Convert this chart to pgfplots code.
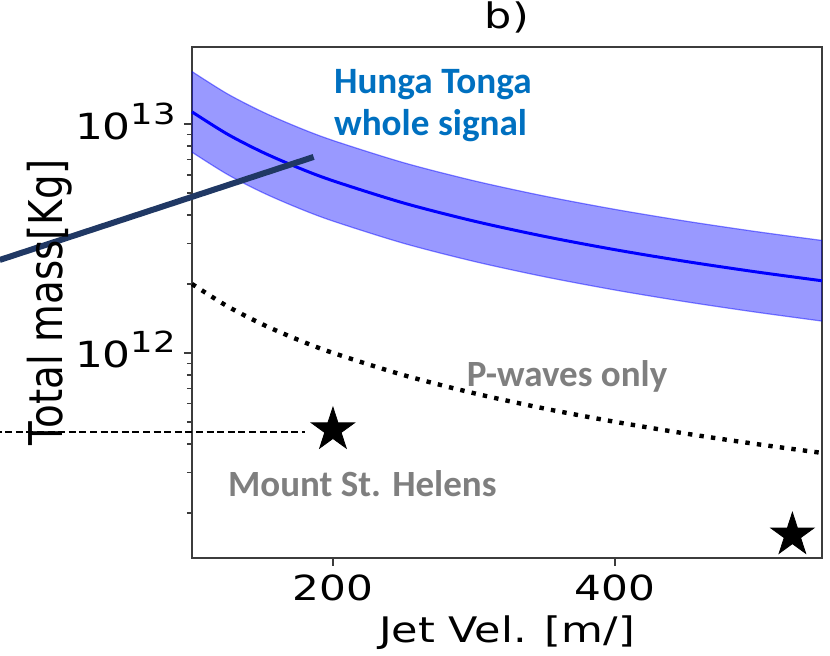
\documentclass[border=0pt]{standalone}
\usepackage{fontspec}
\setmainfont{DejaVu Sans}[FakeStretch=1.22]
\newfontfamily\dvsplain{DejaVu Sans}
\newfontfamily\carlito{Carlito}
\usepackage{pgfplots}
\pgfplotsset{compat=1.18}
\usepgfplotslibrary{fillbetween}
\definecolor{htblue}{HTML}{0070C0}
\definecolor{annogray}{HTML}{7F7F7F}
\definecolor{navy}{HTML}{203864}
\definecolor{axgray}{HTML}{3C3C3C}

\pgfdeclareplotmark{fstar}{%
  \pgfpathmoveto{\pgfpointpolar{90}{\pgfplotmarksize}}%
  \pgfpathlineto{\pgfpointpolar{126}{0.382*\pgfplotmarksize}}%
  \pgfpathlineto{\pgfpointpolar{162}{\pgfplotmarksize}}%
  \pgfpathlineto{\pgfpointpolar{198}{0.382*\pgfplotmarksize}}%
  \pgfpathlineto{\pgfpointpolar{234}{\pgfplotmarksize}}%
  \pgfpathlineto{\pgfpointpolar{270}{0.382*\pgfplotmarksize}}%
  \pgfpathlineto{\pgfpointpolar{306}{\pgfplotmarksize}}%
  \pgfpathlineto{\pgfpointpolar{342}{0.382*\pgfplotmarksize}}%
  \pgfpathlineto{\pgfpointpolar{18}{\pgfplotmarksize}}%
  \pgfpathlineto{\pgfpointpolar{54}{0.382*\pgfplotmarksize}}%
  \pgfpathclose
  \pgfusepathqfillstroke
}

\begin{document}
\begin{tikzpicture}
\begin{axis}[
  at={(0,0)}, anchor=south west,
  scale only axis, width=315pt, height=255.5pt,
  xmin=100, xmax=547,
  ymode=log, ymin=1.27e11, ymax=2.17e13,
  xtick={200,400},
  /pgf/number format/assume math mode=true,
  yticklabel={10\raisebox{7.5pt}{\fontsize{14.5}{15}\selectfont\pgfmathparse{int(round(\tick/ln(10)))}\pgfmathresult}},
  axis line style={axgray, line width=1pt},
  tick style={axgray, line width=0.8pt},
  tick align=outside,
  major tick length=4pt, minor tick length=2.5pt,
  xtick pos=bottom, ytick pos=left,
  ticklabel style={font=\fontsize{17.3}{20}\selectfont, text=black},
  xticklabel style={yshift=-1pt},
  yticklabel style={anchor=base east, yshift=-7.5pt, xshift=-0.5pt, font=\fontsize{18}{20}\selectfont},
  title={b)},
  title style={at={(0.5,1.012)}, anchor=base, font=\fontsize{17.6}{20}\selectfont},
  xlabel={Jet Vel. [m/]},
  xlabel style={at={(0.5,-0.1663)}, anchor=base, font=\fontsize{17.6}{20}\selectfont},
  ylabel={Total mass[Kg]},
  ylabel style={at={(-0.2063,0.5)}, anchor=base, font=\dvsplain\fontsize{19.4}{22}\selectfont, yscale=1.2},
  clip=false,
]
% uncertainty band
\addplot[name path=upper, blue, opacity=0.45, line width=0.6pt, smooth] coordinates {
(100,1.695e13) (125,1.356e13) (150,1.13e13) (175,9.686e12) (200,8.475e12) (250,6.78e12)
(300,5.65e12) (350,4.843e12) (400,4.2375e12) (450,3.767e12) (500,3.39e12) (547,3.099e12)};
\addplot[name path=lower, blue, opacity=0.45, line width=0.6pt, smooth] coordinates {
(100,7.533e12) (125,6.027e12) (150,5.022e12) (175,4.305e12) (200,3.767e12) (250,3.013e12)
(300,2.511e12) (350,2.152e12) (400,1.883e12) (450,1.674e12) (500,1.507e12) (547,1.377e12)};
\addplot[blue, fill opacity=0.4, draw=none] fill between[of=upper and lower];
% central estimate
\addplot[blue, line width=1.5pt, smooth] coordinates {
(100,1.13e13) (125,9.04e12) (150,7.533e12) (175,6.457e12) (200,5.65e12) (250,4.52e12)
(300,3.767e12) (350,3.229e12) (400,2.825e12) (450,2.511e12) (500,2.26e12) (547,2.066e12)};
% P-waves only
\addplot[black, line width=2.2pt, dash pattern=on 2.2pt off 3.6pt, smooth] coordinates {
(100,2e12) (125,1.6e12) (150,1.333e12) (175,1.143e12) (200,1e12) (250,8e11)
(300,6.667e11) (350,5.714e11) (400,5e11) (450,4.444e11) (500,4e11) (547,3.656e11)};
% dashed reference line
\addplot[black, line width=0.7pt, dash pattern=on 3.5pt off 1.8pt] coordinates {(-40,4.52e11) (180,4.52e11)};
% stars
\addplot[only marks, mark=fstar, mark size=11.3pt, black] coordinates {(200,4.61e11) (526,1.6e11)};
% navy annotation line
\addplot[navy, line width=3pt] coordinates {(-36.4,2.547e12) (186.3,7.18e12)};
% annotations
\node[anchor=base west, text=htblue, font=\carlito\bfseries\fontsize{18.6}{22}\selectfont, inner sep=0pt] at (axis cs:200.5,1.366e13) {Hunga Tonga};
\node[anchor=base west, text=htblue, font=\carlito\bfseries\fontsize{18.6}{22}\selectfont, inner sep=0pt] at (axis cs:200.5,8.95e12) {whole signal};
\node[anchor=base west, text=annogray, font=\carlito\bfseries\fontsize{18.5}{22}\selectfont, inner sep=0pt] at (axis cs:294.8,7.1e11) {P-waves only};
\node[anchor=base west, text=annogray, font=\carlito\bfseries\fontsize{18.5}{22}\selectfont, inner sep=0pt] at (axis cs:125.3,2.35e11) {Mount St. Helens};
\end{axis}
\pgfresetboundingbox
\path[use as bounding box] (-96pt,-48.5pt) rectangle (319pt,279pt);
\end{tikzpicture}
\end{document}
